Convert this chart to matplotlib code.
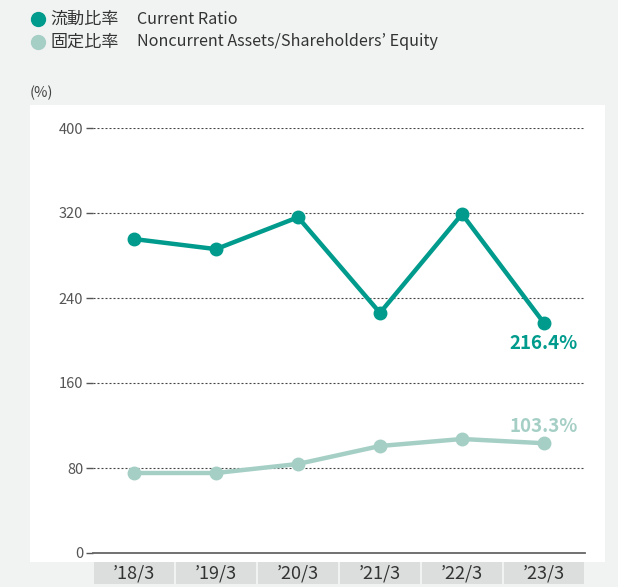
import matplotlib.pyplot as plt
from matplotlib.patches import Rectangle
from matplotlib.transforms import blended_transform_factory
from matplotlib.lines import Line2D

plt.rcParams['font.family'] = ['Noto Sans CJK JP', 'DejaVu Sans']

years = ["’18/3", "’19/3", "’20/3", "’21/3", "’22/3", "’23/3"]
current_ratio = [295.5, 286.0, 316.0, 226.0, 319.0, 216.4]
fixed_ratio = [75.3, 75.3, 83.8, 100.7, 107.3, 103.3]
yticks = [0, 80, 160, 240, 320, 400]

teal = "#009b8c"
light = "#a5cfc5"
bg = "#f1f2f2"

fig = plt.figure(figsize=(6.18, 5.87), dpi=100, facecolor=bg)

# white panel
fig.patches.append(Rectangle((30 / 618, 1 - 562 / 587), 575 / 618, 457 / 587,
                             transform=fig.transFigure, facecolor="white",
                             edgecolor="none", zorder=-10))

ax = fig.add_axes([93 / 618, 1 - 553 / 587, 492 / 618, 425 / 587])
ax.set_facecolor("none")
x = list(range(len(years)))

ax.plot(x, current_ratio, color=teal, lw=3.2, marker="o", ms=9, zorder=3, clip_on=False)
ax.plot(x, fixed_ratio, color=light, lw=3.2, marker="o", ms=9, zorder=3, clip_on=False)

ax.set_xlim(-0.5, len(years) - 0.5)
ax.set_ylim(0, 400)
ax.set_yticks(yticks)
ax.set_yticklabels([str(v) for v in yticks], fontsize=10.5, color="#555555")
ax.tick_params(axis="y", length=5, width=1, color="#555555", pad=2)
ax.set_xticks([])
for v in yticks[1:]:
    ax.axhline(v, color="#444444", lw=0.8, ls=(0, (1.8, 1.8)), zorder=1)
ax.axhline(0, color="#666666", lw=1.3, zorder=2, clip_on=False)
for s in ax.spines.values():
    s.set_visible(False)

# boxed x labels
tr = blended_transform_factory(ax.transData, ax.transAxes)
for i, lab in enumerate(years):
    ax.add_patch(Rectangle((i - 0.488, -0.073), 0.976, 0.052, transform=tr,
                           facecolor="#dcdddd", edgecolor="none", clip_on=False))
    ax.text(i, -0.048, lab, transform=tr, ha="center", va="center",
            fontsize=13, color="#333333")

ax.text(5, current_ratio[-1] - 19, "216.4%", ha="center", va="center",
        fontsize=13.5, fontweight="bold", color=teal)
ax.text(5, fixed_ratio[-1] + 16, "103.3%", ha="center", va="center",
        fontsize=13.5, fontweight="bold", color=light)

# legend
fig.text(30 / 618, 1 - 93 / 587, "(%)", fontsize=10.5, color="#444444", va="center")
for yy, col, jp, en in [(19, teal, "流動比率", "Current Ratio"),
                        (42, light, "固定比率", "Noncurrent Assets/Shareholders’ Equity")]:
    fig.lines.append(Line2D([38 / 618], [1 - yy / 587], marker="o", ms=10,
                            color=col, transform=fig.transFigure))
    fig.text(50 / 618, 1 - yy / 587, jp, fontsize=12.3, color="#333333", va="center")
    fig.text(137 / 618, 1 - yy / 587, en, fontsize=11.6, color="#333333", va="center")

fig.savefig("out.png", dpi=100, facecolor=bg)
